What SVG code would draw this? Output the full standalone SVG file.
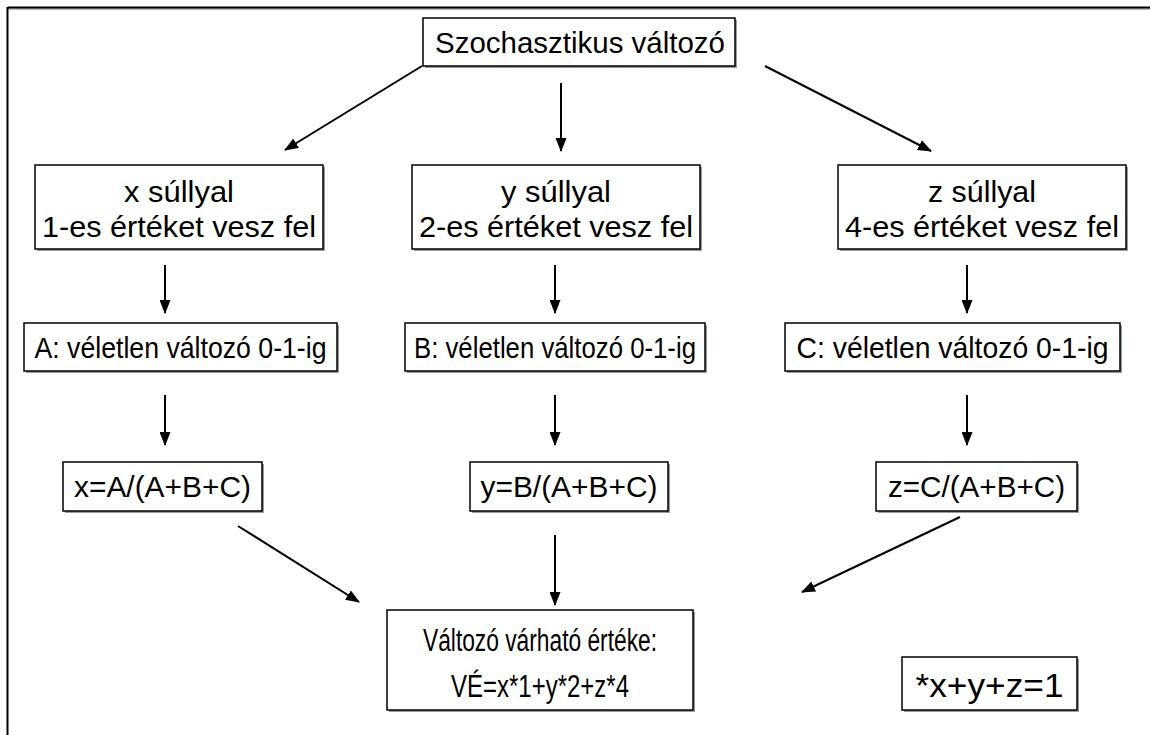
<svg xmlns="http://www.w3.org/2000/svg" width="1150" height="735" viewBox="0 0 1150 735">
  <defs>
    <marker id="ah" viewBox="0 0 14 11" refX="13" refY="5.5" markerWidth="14" markerHeight="11" markerUnits="userSpaceOnUse" orient="auto">
      <path d="M0,0 L14,5.5 L0,11 Z" fill="#000"/>
    </marker>
  </defs>
  <style>
    .box { fill: #fff; stroke: #000; stroke-width: 1.5; }
    .shadow { fill: #9a9a9a; }
    .t { font-family: "Liberation Sans", Arial, sans-serif; font-size: 29px; fill: #000; text-anchor: middle; }
    .b { font-size: 31px; }
    .n { font-size: 33px; }
    .c { stroke: #000; stroke-width: 2; fill: none; marker-end: url(#ah); }
  </style>
  <rect width="1150" height="735" fill="#fff"/>
  <g id="frame">
    <line x1="8" y1="9" x2="1150" y2="9" stroke="#bbb" stroke-width="2"/>
    <line x1="8" y1="7.5" x2="1150" y2="7.5" stroke="#000" stroke-width="2"/>
    <line x1="7.5" y1="7" x2="7.5" y2="735" stroke="#000" stroke-width="2"/>
  </g>

  <g id="n-top">
    <rect class="shadow" x="425" y="20" width="312" height="48"/>
    <rect class="box" x="423" y="18" width="312" height="48"/>
    <text class="t" x="580" y="53" textLength="290" lengthAdjust="spacingAndGlyphs">Szochasztikus változó</text>
  </g>

  <g id="n-x-weight">
    <rect class="shadow" x="37" y="167" width="288" height="84"/>
    <rect class="box" x="35" y="165" width="288" height="84"/>
    <text class="t" x="179" y="202" textLength="110" lengthAdjust="spacingAndGlyphs">x súllyal</text>
    <text class="t" x="179" y="237" textLength="274" lengthAdjust="spacingAndGlyphs">1-es értéket vesz fel</text>
  </g>
  <g id="n-y-weight">
    <rect class="shadow" x="414" y="167" width="288" height="84"/>
    <rect class="box" x="412" y="165" width="288" height="84"/>
    <text class="t" x="556" y="202" textLength="110" lengthAdjust="spacingAndGlyphs">y súllyal</text>
    <text class="t" x="556" y="237" textLength="274" lengthAdjust="spacingAndGlyphs">2-es értéket vesz fel</text>
  </g>
  <g id="n-z-weight">
    <rect class="shadow" x="840" y="167" width="288" height="84"/>
    <rect class="box" x="838" y="165" width="288" height="84"/>
    <text class="t" x="982" y="202" textLength="108" lengthAdjust="spacingAndGlyphs">z súllyal</text>
    <text class="t" x="982" y="237" textLength="274" lengthAdjust="spacingAndGlyphs">4-es értéket vesz fel</text>
  </g>

  <g id="n-A">
    <rect class="shadow" x="26" y="325" width="313" height="48"/>
    <rect class="box" x="24" y="323" width="313" height="48"/>
    <text class="t" x="180.5" y="358" textLength="292" lengthAdjust="spacingAndGlyphs">A: véletlen változó 0-1-ig</text>
  </g>
  <g id="n-B">
    <rect class="shadow" x="407" y="325" width="300" height="48"/>
    <rect class="box" x="405" y="323" width="300" height="48"/>
    <text class="t" x="555" y="358" textLength="282" lengthAdjust="spacingAndGlyphs">B: véletlen változó 0-1-ig</text>
  </g>
  <g id="n-C">
    <rect class="shadow" x="787" y="325" width="335" height="48"/>
    <rect class="box" x="785" y="323" width="335" height="48"/>
    <text class="t" x="952.5" y="358" textLength="312" lengthAdjust="spacingAndGlyphs">C: véletlen változó 0-1-ig</text>
  </g>

  <g id="n-x">
    <rect class="shadow" x="65" y="464" width="199" height="49"/>
    <rect class="box" x="63" y="462" width="199" height="49"/>
    <text class="t" x="162.5" y="497" textLength="177" lengthAdjust="spacingAndGlyphs">x=A/(A+B+C)</text>
  </g>
  <g id="n-y">
    <rect class="shadow" x="472" y="464" width="198" height="49"/>
    <rect class="box" x="470" y="462" width="198" height="49"/>
    <text class="t" x="569" y="497" textLength="177" lengthAdjust="spacingAndGlyphs">y=B/(A+B+C)</text>
  </g>
  <g id="n-z">
    <rect class="shadow" x="878" y="464" width="201" height="49"/>
    <rect class="box" x="876" y="462" width="201" height="49"/>
    <text class="t" x="976.5" y="497" textLength="177" lengthAdjust="spacingAndGlyphs">z=C/(A+B+C)</text>
  </g>

  <g id="n-ve">
    <rect class="shadow" x="389" y="612" width="306" height="100"/>
    <rect class="box" x="387" y="610" width="306" height="100"/>
    <text class="t b" x="540" y="651" textLength="234" lengthAdjust="spacingAndGlyphs">Változó várható értéke:</text>
    <text class="t b" x="540" y="697" textLength="178" lengthAdjust="spacingAndGlyphs">VÉ=x*1+y*2+z*4</text>
  </g>

  <g id="n-note">
    <rect class="shadow" x="904" y="659" width="175" height="53"/>
    <rect class="box" x="902" y="657" width="175" height="53"/>
    <text class="t n" x="989.5" y="697" textLength="148" lengthAdjust="spacingAndGlyphs">*x+y+z=1</text>
  </g>

  <g id="connectors">
    <line class="c" x1="422" y1="66" x2="285" y2="150"/>
    <line class="c" x1="561" y1="83" x2="561" y2="151"/>
    <line class="c" x1="765" y1="66" x2="931" y2="151"/>

    <line class="c" x1="165" y1="265" x2="165" y2="313"/>
    <line class="c" x1="555" y1="265" x2="555" y2="313"/>
    <line class="c" x1="967" y1="265" x2="967" y2="313"/>

    <line class="c" x1="165" y1="395" x2="165" y2="445"/>
    <line class="c" x1="555" y1="395" x2="555" y2="445"/>
    <line class="c" x1="967" y1="395" x2="967" y2="445"/>

    <line class="c" x1="238" y1="526" x2="359" y2="602"/>
    <line class="c" x1="555" y1="535" x2="555" y2="605"/>
    <line class="c" x1="960" y1="517" x2="802" y2="592"/>
  </g>
</svg>
